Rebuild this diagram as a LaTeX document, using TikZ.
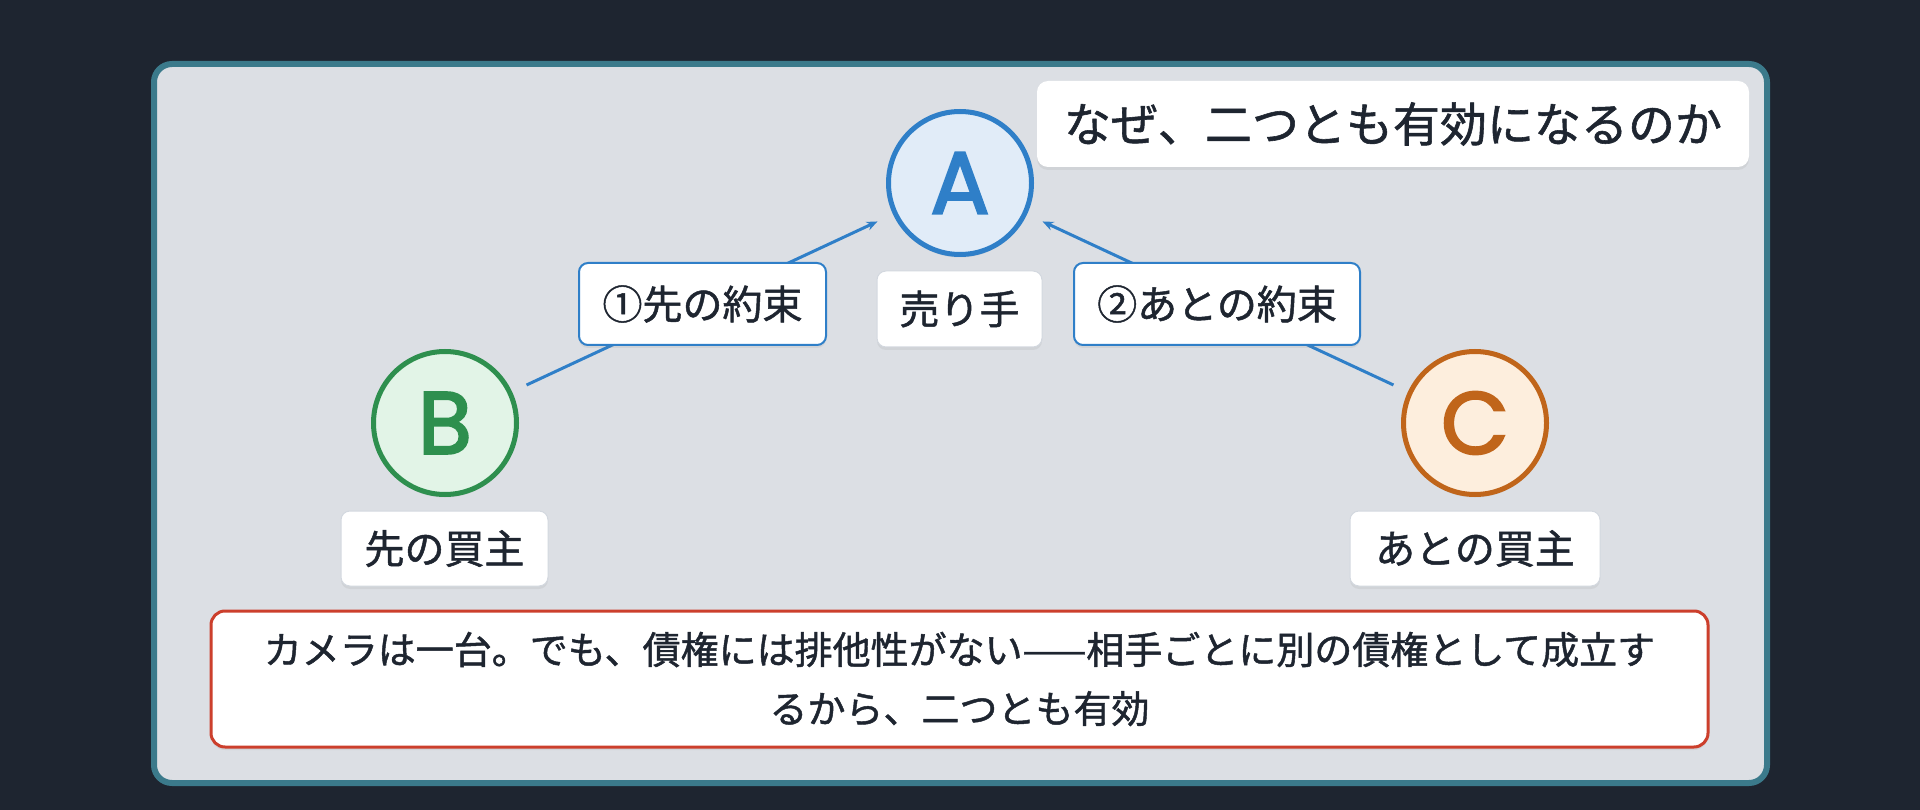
\documentclass[tikz,border=0pt]{standalone}
\usepackage{fontspec}
\setmainfont{Noto Sans CJK JP}[FakeBold=1.2]
\newfontfamily\letterfont{Poppins}[FakeBold=2.5]
\usetikzlibrary{arrows.meta,shadows}
\definecolor{bgdark}{HTML}{1E2530}
\definecolor{panel}{HTML}{DCDFE4}
\definecolor{frameteal}{HTML}{3B7A8B}
\definecolor{ink}{HTML}{1E2530}
\definecolor{ablue}{HTML}{2F7FC8}
\definecolor{afill}{HTML}{E1ECF8}
\definecolor{bgreen}{HTML}{2E8F4E}
\definecolor{bfill}{HTML}{E2F4E7}
\definecolor{corange}{HTML}{C0651A}
\definecolor{cfill}{HTML}{FDEEDD}
\definecolor{noteRed}{HTML}{CC3F2C}
\definecolor{softedge}{HTML}{D3D8DF}
\tikzset{
  softshadow/.style={drop shadow={opacity=0.12, shadow xshift=0pt, shadow yshift=-3pt}},
  party/.style={circle, line width=5pt, minimum size=143pt, inner sep=0pt,
    font=\letterfont\fontsize{88}{88}\selectfont, softshadow},
  labelbox/.style={rectangle, rounded corners=9pt, fill=white, inner sep=0pt,
    text=ink, font=\fontsize{40}{48}\selectfont, softshadow},
  plainlabel/.style={labelbox, draw=softedge, line width=1pt},
  deallabel/.style={labelbox, draw=ablue, line width=2pt},
  deal/.style={draw=ablue, line width=3pt, -{Stealth[length=11pt,width=9pt]},
    shorten <=16pt, shorten >=17pt},
}
\begin{document}
\begin{tikzpicture}[x=1pt,y=-1pt]
\fill[bgdark] (0,0) rectangle (1920,810);
\useasboundingbox (0,0) rectangle (1920,810);
\draw[frameteal, fill=panel, line width=6pt, rounded corners=18pt] (154,64) rectangle (1767,783);

\node[party, draw=ablue, fill=afill, text=ablue] (A) at (960,183) {A};
\node[party, draw=bgreen, fill=bfill, text=bgreen] (B) at (445,423) {B};
\node[party, draw=corange, fill=cfill, text=corange] (C) at (1475,423) {C};

\draw[deal] (B) -- (A);
\draw[deal] (C) -- (A);

\node[deallabel, minimum width=247pt, minimum height=82pt] (d1) at (702.5,304) {①先の約束};
\node[deallabel, minimum width=286pt, minimum height=82pt] (d2) at (1217,304) {②あとの約束};
\node[plainlabel, minimum width=165pt, minimum height=76pt] (la) at (959.5,309) {売り手};
\node[plainlabel, minimum width=207pt, minimum height=75pt] (lb) at (444.5,548.5) {先の買主};
\node[plainlabel, minimum width=250pt, minimum height=75pt] (lc) at (1475,548.5) {あとの買主};

\node[labelbox, rounded corners=11pt, minimum width=712pt, minimum height=86pt,
  font=\fontsize{47}{56}\selectfont] (title) at (1393,124) {なぜ、二つとも有効になるのか};

\node[labelbox, draw=noteRed, line width=3pt, rounded corners=14pt,
  minimum width=1497pt, minimum height=136pt, align=center,
  font=\fontsize{38}{59}\selectfont] (note) at (959.5,679)
  {カメラは一台。でも、債権には排他性がない——相手ごとに別の債権として成立す\\るから、二つとも有効};
\end{tikzpicture}
\end{document}
